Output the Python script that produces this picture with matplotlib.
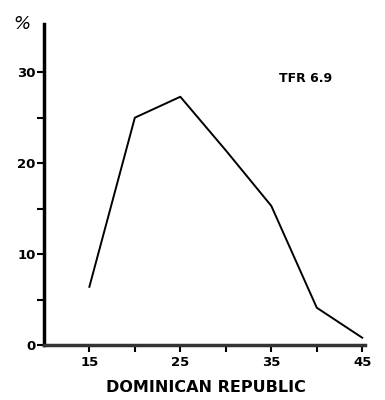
import matplotlib.pyplot as plt

# datos
edades = [15, 20, 25, 30, 35, 40, 45]
porcentaje = [6.4, 25.0, 27.3, 21.4, 15.3, 4.1, 0.8]
ticks_y = [0, 10, 20, 30]
ticks_y_menores = [5, 15, 25]
ticks_x = [15, 25, 35, 45]
ticks_x_menores = [20, 30, 40]
pais = "DOMINICAN REPUBLIC"
tfr = "TFR 6.9"

fig = plt.figure(figsize=(3.85, 4.0), dpi=100)
ax = fig.add_axes([0.114, 0.1375, 0.834, 0.8025])

ax.plot(edades, porcentaje, color="black", linewidth=1.4)

ax.set_xlim(10, 45.3)
ax.set_ylim(0, 35.3)

for lado in ["top", "right"]:
    ax.spines[lado].set_visible(False)
ax.spines["left"].set_linewidth(2.5)
ax.spines["bottom"].set_linewidth(2.5)
ax.spines["bottom"].set_color("#333333")

ax.set_yticks(ticks_y)
ax.set_yticks(ticks_y_menores, minor=True)
ax.set_xticks(ticks_x)
ax.set_xticks(ticks_x_menores, minor=True)
ax.tick_params(axis="both", which="both", direction="out", width=1.5, length=5,
               labelsize=9.5, pad=3)
ax.tick_params(axis="y", which="major", pad=1)
for lab in ax.get_xticklabels() + ax.get_yticklabels():
    lab.set_fontweight("bold")

ax.text(0.815, 0.83, tfr, transform=ax.transAxes, ha="center", va="center",
        fontsize=9, fontweight="bold")
fig.text(0.058, 0.94, "%", fontsize=13, style="italic", ha="center", va="center")
fig.text(0.535, 0.03, pais, fontsize=11.5, fontweight="bold", ha="center", va="center")

fig.savefig("out.png", dpi=100)
